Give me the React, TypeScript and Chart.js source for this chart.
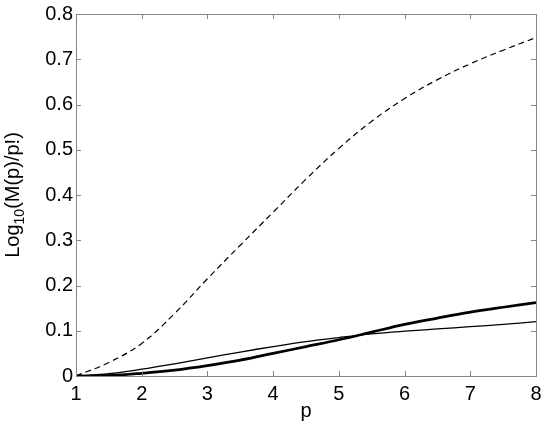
import React, { useEffect, useRef } from "react";
import { Chart, registerables } from "chart.js";

Chart.register(...registerables);

const pValues = [1, 1.5, 2, 2.5, 3, 3.5, 4, 4.5, 5, 5.5, 6, 6.5, 7, 7.5, 8];
const dashedSeries = [0, 0.03, 0.072, 0.138, 0.215, 0.289, 0.362, 0.435, 0.503, 0.563, 0.613, 0.655, 0.69, 0.72, 0.748];
const thinSeries = [0, 0.005, 0.015, 0.027, 0.04, 0.053, 0.065, 0.076, 0.085, 0.093, 0.099, 0.104, 0.109, 0.114, 0.12];
const thickSeries = [0, 0.001, 0.006, 0.013, 0.023, 0.035, 0.05, 0.065, 0.08, 0.097, 0.114, 0.128, 0.141, 0.152, 0.162];

const xTitle = "p";
const yTitleMain = "Log";
const yTitleSub = "10";
const yTitleRest = "(M(p)/p!)";

const FONT = "'Liberation Sans', Arial, sans-serif";

const framePlugin = {
  id: "matlabFrame",
  afterDatasetsDraw(chart: any) {
    const { ctx, chartArea, scales } = chart;
    const { left, right, top, bottom } = chartArea;
    const x = scales.x;
    const y = scales.y;
    ctx.save();
    ctx.strokeStyle = "#858585";
    ctx.lineWidth = 1;
    ctx.beginPath();
    const tl = 5;
    x.ticks.forEach((t: any) => {
      const px = Math.round(x.getPixelForValue(t.value)) + 0.5;
      ctx.moveTo(px, bottom);
      ctx.lineTo(px, bottom - tl);
      ctx.moveTo(px, top);
      ctx.lineTo(px, top + tl);
    });
    y.ticks.forEach((t: any) => {
      const py = Math.round(y.getPixelForValue(t.value)) + 0.5;
      ctx.moveTo(left, py);
      ctx.lineTo(left + tl, py);
      ctx.moveTo(right, py);
      ctx.lineTo(right - tl, py);
    });
    ctx.stroke();
    ctx.strokeRect(Math.round(left) + 0.5, Math.round(top) + 0.5, Math.round(right - left), Math.round(bottom - top));
    ctx.restore();
  },
  afterDraw(chart: any) {
    const { ctx, chartArea } = chart;
    const { left, right, top, bottom } = chartArea;
    ctx.save();
    ctx.fillStyle = "#000";
    ctx.font = `20px ${FONT}`;
    ctx.textAlign = "center";
    ctx.textBaseline = "alphabetic";
    ctx.fillText(xTitle, (left + right) / 2, 417);
    const mainFont = `20px ${FONT}`;
    const subFont = `14px ${FONT}`;
    ctx.font = mainFont;
    const w1 = ctx.measureText(yTitleMain).width;
    const w3 = ctx.measureText(yTitleRest).width;
    ctx.font = subFont;
    const w2 = ctx.measureText(yTitleSub).width;
    const total = w1 + w2 + w3;
    ctx.translate(19, (top + bottom) / 2);
    ctx.rotate(-Math.PI / 2);
    ctx.textAlign = "left";
    let cx = -total / 2;
    ctx.font = mainFont;
    ctx.fillText(yTitleMain, cx, 0);
    cx += w1;
    ctx.font = subFont;
    ctx.fillText(yTitleSub, cx, 5);
    cx += w2;
    ctx.font = mainFont;
    ctx.fillText(yTitleRest, cx, 0);
    ctx.restore();
  },
};

export default function App() {
  const ref = useRef<HTMLCanvasElement | null>(null);
  useEffect(() => {
    if (!ref.current) return;
    const toPts = (arr: number[]) => pValues.map((p, i) => ({ x: p, y: arr[i] }));
    const chart = new Chart(ref.current, {
      type: "line",
      data: {
        datasets: [
          {
            data: toPts(dashedSeries),
            borderColor: "#000",
            borderWidth: 1.2,
            borderDash: [6, 4],
            pointRadius: 0,
            tension: 0.4,
          },
          {
            data: toPts(thinSeries),
            borderColor: "#000",
            borderWidth: 1.3,
            pointRadius: 0,
            tension: 0.4,
          },
          {
            data: toPts(thickSeries),
            borderColor: "#000",
            borderWidth: 2.7,
            pointRadius: 0,
            tension: 0.4,
          },
        ],
      },
      options: {
        responsive: false,
        animation: false,
        devicePixelRatio: 1,
        layout: { padding: { top: 14, right: 9, left: 0, bottom: 0 } },
        plugins: { legend: { display: false }, tooltip: { enabled: false } },
        scales: {
          x: {
            type: "linear",
            min: 1,
            max: 8,
            grid: { display: false, drawTicks: false },
            border: { display: false },
            ticks: {
              stepSize: 1,
              padding: 6,
              color: "#000",
              font: { family: FONT, size: 20 },
              maxRotation: 0,
            },
            afterFit: (s: any) => {
              s.height = 48;
              s.paddingLeft = 0;
              s.paddingRight = 0;
            },
          },
          y: {
            type: "linear",
            min: 0,
            max: 0.8,
            grid: { display: false, drawTicks: false },
            border: { display: false },
            ticks: {
              stepSize: 0.1,
              padding: 3,
              color: "#000",
              font: { family: FONT, size: 20 },
              callback: (v: any) => String(parseFloat(Number(v).toFixed(1))),
            },
            afterFit: (s: any) => {
              s.width = 76;
              s.paddingTop = 0;
              s.paddingBottom = 0;
            },
          },
        },
      },
      plugins: [framePlugin],
    });
    return () => chart.destroy();
  }, []);
  return (
    <div style={{ position: "absolute", left: 0, top: 0, width: 545, height: 424, background: "#fff" }}>
      <canvas ref={ref} width={545} height={424} />
    </div>
  );
}
